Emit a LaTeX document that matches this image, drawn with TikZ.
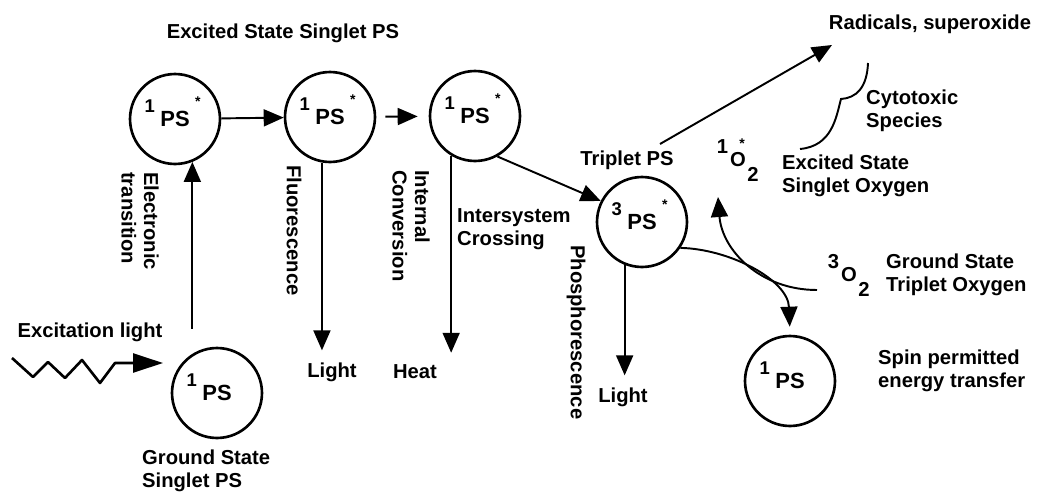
\documentclass[tikz,border=0pt]{standalone}
\usepackage{fontspec}
\setmainfont{Liberation Sans}
\usetikzlibrary{arrows.meta,calc}

\newcommand{\psstate}[2]{\llap{\smash{\raisebox{1.25ex}{\fontsize{10.5}{11}\selectfont #1}}\hspace{0.25em}}PS\rlap{\hspace{0.25em}\smash{\raisebox{1.75ex}{\footnotesize #2}}}}
\newcommand{\oxstate}[2]{\llap{\smash{\raisebox{1.25ex}{#1}}\hspace{0.1em}}O\llap{\smash{\raisebox{1.7ex}{\footnotesize #2}}\hspace{0.05em}}\rlap{\hspace{0.08em}\smash{\raisebox{-1.4ex}{2}}}}

\begin{document}
\begin{tikzpicture}[x=0.02cm, y=-0.02cm,
  font=\fontsize{11.5}{12.8}\selectfont\bfseries,
  state/.style={circle, draw, line width=1.5pt, minimum size=1.8cm, inner sep=0pt,
    font=\fontsize{12.5}{14}\selectfont\bfseries},
  arr/.style={line width=1.1pt, -{Triangle[length=0.4cm, width=0.34cm]}},
  bigarr/.style={line width=1.5pt, line join=round, -{Triangle[length=0.6cm, width=0.38cm]}},
  vlabel/.style={rotate=-90, anchor=west, align=left},
  llabel/.style={anchor=west, align=left}]

  \useasboundingbox (0,0) rectangle (1039,494);

  % states
  \foreach \n/\x/\y in {s1/175/119, s2/330/117, s3/475/116}
    \node[state] (\n) at (\x,\y) {\psstate{1}{*}};
  \node[state] (ground) at (217,393) {\psstate{1}{}};
  \node[state] (trip) at (642,222) {\psstate{3}{*}};
  \node[state] (back) at (790,381) {\psstate{1}{}};
  \node (ox1) at (738,160) {\oxstate{1}{*}};
  \node (ox3) at (849,275) {\oxstate{3}{}};

  % labels
  \node (title) at (283,33) {Excited State Singlet PS};
  \node (exc) at (90,332) {Excitation light};
  \node[llabel] (groundlbl) at (136,471) {Ground State\\Singlet PS};
  \node[vlabel] (etrans) at (140,166) {Electronic\\transition};
  \node[vlabel] (fluo) at (294,159) {Fluorescence};
  \node[vlabel] (intconv) at (411,164) {Internal\\Conversion};
  \node[vlabel] (phos) at (576,239) {Phosphorescence};
  \node (light1) at (332,372) {Light};
  \node (heat) at (415,372) {Heat};
  \node (light2) at (623,397) {Light};
  \node[llabel] (isc) at (451,229) {Intersystem\\Crossing};
  \node (triplbl) at (627,160) {Triplet PS};
  \node (radical) at (930,24) {Radicals, superoxide};
  \node[llabel] (cyto) at (860,111) {Cytotoxic\\Species};
  \node[llabel] (exox) at (776,176) {Excited State\\Singlet Oxygen};
  \node[llabel] (gsox) at (880,275) {Ground State\\Triplet Oxygen};
  \node[llabel] (spin) at (872,371) {Spin permitted\\energy transfer};

  \coordinate (exctip) at (163,363);
  \coordinate (radstart) at (660,144);
  \coordinate (radend) at (832,45);
  \coordinate (o3start) at (817,290);
  \coordinate (o1tip) at (718,197);

  % transitions
  \draw[bigarr] (12,358) -- (33,377) -- (48,362) -- (65,378) -- (82,360)
    -- (100,383) -- (115,363) -- (exctip);
  \draw[arr, shorten <=0.36cm] (s1.-68 |- ground.north) -- (s1.-68);
  \draw[arr] (s1) -- (s2);
  \draw[arr, shorten <=0.18cm, shorten >=0.22cm] (s2) -- (s3);
  \draw[arr, shorten >=0.12cm] (s2.-100) -- (s2.-100 |- light1.north);
  \draw[arr, shorten >=0.12cm] (s3.-121) -- (s3.-121 |- heat.north);
  \draw[arr] (s3.-61) -- (trip.153);
  \draw[arr, shorten >=0.12cm] (trip.-112) -- (trip.-112 |- light2.north);
  \draw[arr] (radstart) -- (radend);
  \draw[arr, shorten >=0.16cm] (trip.-34) .. controls (730,249) and (788,280) .. (back.north);
  \draw[arr] (o3start) .. controls (760,290) and (722,250) .. (o1tip);

  % brace
  \draw[line width=1.1pt] (868,63) .. controls (867,88) and (856,98) .. (841,99)
    .. controls (836,118) and (832,146) .. (800,149);
\end{tikzpicture}
\end{document}
